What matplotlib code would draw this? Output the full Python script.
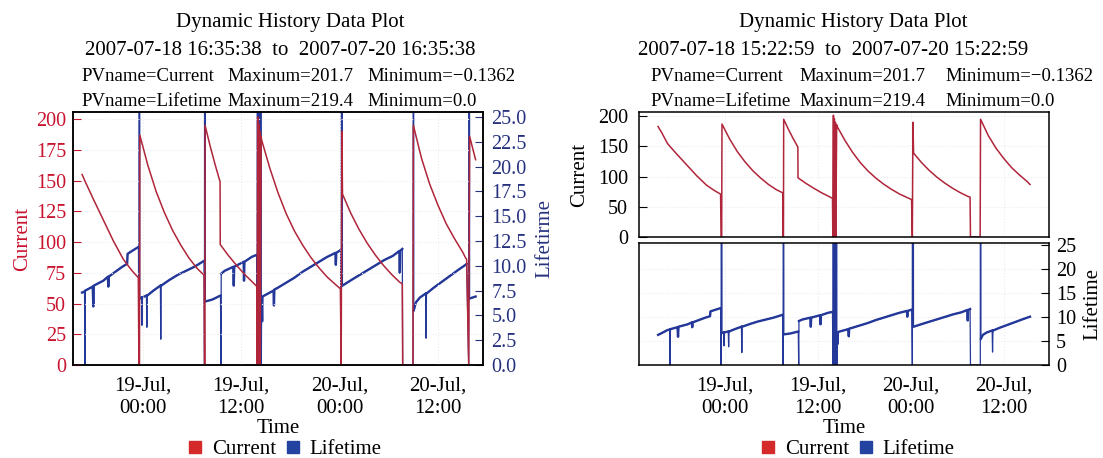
import numpy as np
import matplotlib.pyplot as plt
import matplotlib.dates as mdates
from matplotlib.lines import Line2D

plt.rcParams['font.family'] = ['Liberation Serif', 'DejaVu Serif']

# archived samples, hours after 2007-07-18 00:00
cur_hours = [15.39, 15.90, 16.60, 16.96, 17.97, 19.19, 20.41, 21.63, 22.65, 23.46,
             23.53, 23.60, 23.64, 24.64, 25.64, 26.64, 27.64, 28.64, 29.64, 30.64,
             31.49, 31.53, 31.57, 31.60, 32.20, 32.80, 33.43, 33.45, 34.45, 35.45,
             36.45, 37.45, 37.90, 37.94, 38.02, 38.06, 38.14, 38.18, 38.28, 38.32,
             38.44, 38.50, 39.50, 40.50, 41.50, 42.50, 43.50, 44.50, 45.50, 46.50,
             47.50, 48.10, 48.20, 48.28, 48.36, 49.36, 50.36, 51.36, 52.36, 53.36,
             54.36, 55.36, 55.65, 55.70, 56.95, 57.00, 58.00, 59.00, 60.00, 61.00,
             62.00, 63.00, 63.38, 63.50, 63.75, 63.86, 64.59]
current = [183, 172, 155, 149.5, 135, 118, 101, 86, 77, 71,
           0, 0, 187, 162, 141, 124, 109.5, 97.5, 87, 78.5,
           73, 0, 0, 195, 178.6, 163.6, 149, 98, 89, 81,
           73.5, 67, 64, 0, 201.7, 0, 196, 0, 190, 0,
           186, 183, 160, 140, 123, 109, 97.5, 87.5, 79, 71.5,
           65.5, 62, 0, 190, 139, 123.6, 110.5, 99.2, 89.5, 81,
           73.6, 67.2, 66, 0, 0, 195, 168, 147, 130, 115,
           103, 92, 87, 86, 0, 186, 167]

life_hours = [15.40, 15.90, 16.60, 16.90, 16.95, 16.99, 17.90, 17.97, 18.03, 19.20,
              19.75, 19.80, 19.85, 20.50, 21.50, 22.10, 22.15, 22.70, 23.48, 23.53,
              23.57, 23.64, 23.85, 23.90, 23.95, 24.45, 24.50, 24.55, 25.30, 26.15,
              26.20, 26.25, 27.30, 28.30, 29.30, 30.30, 31.48, 31.53, 31.57, 31.62,
              32.50, 33.48, 33.54, 33.57, 34.00, 35.05, 35.10, 35.15, 36.30, 36.35,
              36.40, 37.30, 37.90, 37.95, 38.00, 38.04, 38.12, 38.16, 38.26, 38.30,
              38.42, 38.46, 38.50, 38.56, 38.60, 39.50, 39.95, 40.00, 40.05, 40.50,
              41.50, 42.50, 43.50, 44.50, 45.50, 46.50, 47.50, 47.55, 47.60, 48.15,
              48.20, 48.25, 48.35, 49.50, 50.50, 51.50, 52.50, 53.50, 54.50, 55.30,
              55.35, 55.40, 55.65, 55.70, 56.97, 57.00, 57.05, 57.30, 57.80, 58.50,
              58.55, 58.60, 59.50, 60.50, 61.50, 62.50, 63.38, 63.50, 63.75, 63.80,
              63.86, 64.59]
lifetime = [6.3, 6.7, 7.3, 7.4, 0, 7.5, 7.9, 5.9, 8.0, 8.5,
            8.9, 7.9, 8.9, 9.3, 9.9, 10.2, 11.2, 11.5, 11.9, 0,
            219.4, 6.7, 6.8, 4.0, 6.8, 7.0, 3.8, 7.0, 7.5, 8.0,
            2.6, 8.0, 8.6, 9.1, 9.5, 9.9, 10.5, 0, 219.4, 6.4,
            6.6, 7.0, 0, 9.2, 9.5, 9.9, 8.0, 9.9, 10.4, 8.5,
            10.4, 10.9, 11.1, 0, 219.4, 0, 219.4, 0, 219.4, 0,
            219.4, 0, 6.7, 4.4, 6.9, 7.3, 7.5, 6.0, 7.6, 7.8,
            8.3, 8.8, 9.4, 9.9, 10.4, 10.9, 11.3, 10.1, 11.3, 11.6,
            0, 219.4, 8.0, 8.6, 9.1, 9.6, 10.1, 10.6, 11.0, 11.5,
            9.3, 11.5, 11.7, 0, 0, 219.4, 5.5, 6.3, 6.8, 7.2,
            2.7, 7.2, 7.8, 8.4, 9.0, 9.6, 10.1, 10.2, 0, 219.4,
            6.7, 6.9]

left_window = ('2007-07-18T16:35:38', '2007-07-20T16:35:38')
right_window = ('2007-07-18T15:22:59', '2007-07-20T15:22:59')

cur_col = '#b0253a'
life_col = '#24389a'
red_txt = '#c8142f'
blue_txt = '#26317f'

day0 = np.datetime64('2007-07-18T00:00:00')


def as_time(hours):
    secs = np.round(np.asarray(hours) * 3600).astype(int)
    return day0 + secs.astype('timedelta64[s]')


def window(hours, vals, win):
    t = as_time(hours)
    m = (t >= np.datetime64(win[0])) & (t <= np.datetime64(win[1]))
    return t[m], np.asarray(vals, dtype=float)[m]


def plot_lifetime(a, t, v):
    # thin line for the injection spikes, heavier for the noisy trace
    a.plot(t, v, color=life_col, lw=0.9)
    a.plot(t, np.where((v > 4) & (v < 25), v, np.nan), color=life_col, lw=1.7)


def style_time_axis(ax):
    ax.xaxis.set_major_locator(mdates.HourLocator(byhour=[0, 12]))
    ax.xaxis.set_major_formatter(mdates.DateFormatter('%d-%b,\n%H:%M'))
    ax.tick_params(axis='x', length=0, pad=8.5, labelsize=15)
    ax.grid(True, color='#ececec', linestyle=':', linewidth=0.8)


fig = plt.figure(figsize=(11.03, 4.58), dpi=100)
W, H = 1103.0, 458.0


def axes_px(x0, y0, x1, y1):
    return fig.add_axes([x0 / W, 1 - y1 / H, (x1 - x0) / W, (y1 - y0) / H])


# ---- left chart: twin axes, current drawn above lifetime
ax = axes_px(73, 112, 483, 365)
ax2 = ax.twinx()
ax.set_zorder(ax2.get_zorder() + 1)
ax.patch.set_visible(False)
t, v = window(cur_hours, current, left_window)
ax.plot(t, v, color=cur_col, lw=1.1)
t, v = window(life_hours, lifetime, left_window)
plot_lifetime(ax2, t, v)
ax.set_xlim(np.datetime64(left_window[0]) - np.timedelta64(66, 'm'),
            np.datetime64(left_window[1]) + np.timedelta64(54, 'm'))
ax.set_ylim(0, 205.8)
ax2.set_ylim(0, 25.5)
ax.set_yticks(np.arange(0, 201, 25))
ax2.set_yticks(np.arange(0, 25.1, 2.5))
ax2.set_yticklabels(['%.1f' % x for x in np.arange(0, 25.1, 2.5)])
ax.tick_params(axis='y', direction='in', length=6, pad=5, labelsize=14.5,
               colors=red_txt)
ax2.tick_params(axis='y', direction='in', length=6, pad=6, labelsize=14.5,
                colors=blue_txt)
style_time_axis(ax)
ax.set_ylabel('Current', color=red_txt, fontsize=15, labelpad=3)
ax2.set_ylabel('Lifetirme', color=blue_txt, fontsize=15, labelpad=6)
ax.set_xlabel('Time', fontsize=15, labelpad=1)

# ---- right chart: two stacked axes
axt = axes_px(639, 112, 1049, 237)
axb = axes_px(639, 243, 1049, 365)
t, v = window(cur_hours, current, right_window)
axt.plot(t, v, color=cur_col, lw=1.1)
t, v = window(life_hours, lifetime, right_window)
plot_lifetime(axb, t, v)
for a in (axt, axb):
    a.set_xlim(np.datetime64(right_window[0]) - np.timedelta64(147, 'm'),
               np.datetime64(right_window[1]) + np.timedelta64(147, 'm'))
    style_time_axis(a)
axt.tick_params(axis='x', labelbottom=False)
axt.set_ylim(0, 207)
axt.set_yticks(np.arange(0, 201, 50))
axt.tick_params(axis='y', direction='in', length=6, pad=8, labelsize=14.5)
axt.set_ylabel('Current', fontsize=15, labelpad=6)
axb.set_ylim(0, 25.5)
axb.set_yticks(np.arange(0, 26, 5))
axb.yaxis.tick_right()
axb.yaxis.set_label_position('right')
axb.tick_params(axis='y', direction='in', length=6, pad=5, labelsize=14.5)
axb.set_ylabel('Lifetime', fontsize=15, labelpad=5)
axb.set_xlabel('Time', fontsize=15, labelpad=1)

for a in (ax, ax2, axt, axb):
    for s in a.spines.values():
        s.set_linewidth(1.1)


# ---- header texts
def header(cx1, cx2, win, cols):
    d0 = win[0].replace('T', ' ')
    d1 = win[1].replace('T', ' ')
    fig.text(cx1 / W, 1 - 27 / H, 'Dynamic History Data Plot', ha='center',
             va='baseline', fontsize=15)
    fig.text(cx2 / W, 1 - 55 / H, d0 + '  to  ' + d1, ha='center',
             va='baseline', fontsize=15)
    rows = [['PVname=Current', 'Maxinum=201.7', 'Minimum=\u22120.1362'],
            ['PVname=Lifetime', 'Maxinum=219.4', 'Minimum=0.0']]
    for row, yb in zip(rows, (81, 106)):
        for txt, x in zip(row, cols):
            fig.text(x / W, 1 - yb / H, txt, ha='left', va='baseline',
                     fontsize=13.5)


header(290, 280, left_window, (81, 227, 367))
header(853, 833, right_window, (650, 799, 945))

handles = [Line2D([], [], ls='none', marker='s', ms=8, color='#d42a2a'),
           Line2D([], [], ls='none', marker='s', ms=8, color='#2443a0')]
for cx in (284, 857):
    fig.legend(handles, ['Current', 'Lifetime'], loc='center',
               bbox_to_anchor=(cx / W, 1 - 449 / H), ncol=2, frameon=False,
               fontsize=15, handlelength=0.8, handletextpad=0.4,
               columnspacing=0.4, borderpad=0)

fig.savefig('out.png', dpi=100)
